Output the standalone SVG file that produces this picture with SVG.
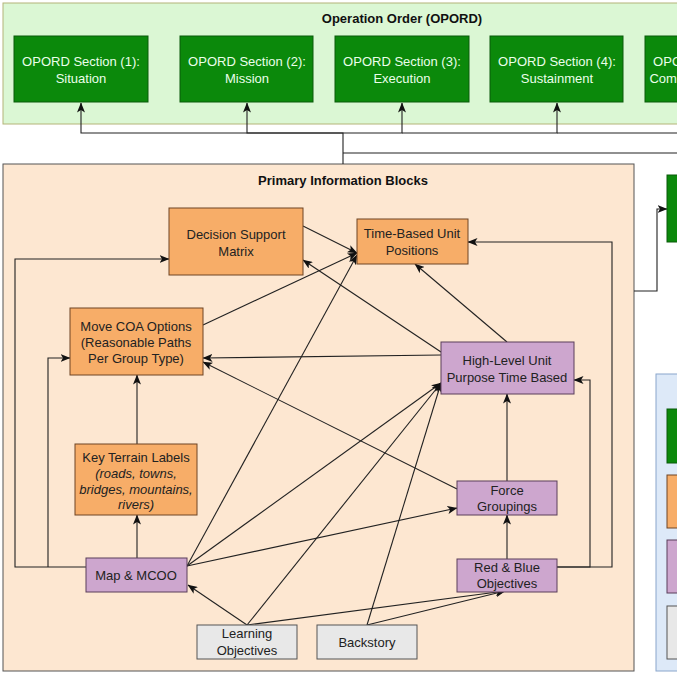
<svg xmlns="http://www.w3.org/2000/svg" width="677" height="677" viewBox="0 0 677 677">
<defs>
<marker id="arr" viewBox="0 0 10 8" refX="9.5" refY="4" markerWidth="10" markerHeight="8" markerUnits="userSpaceOnUse" orient="auto">
<path d="M0,0 L10,4 L0,8 L2.5,4 Z" fill="#111"/>
</marker>
<style>
text{font-family:"Liberation Sans",Arial,sans-serif;font-size:13px;text-anchor:middle}
.t{font-weight:bold;fill:#111}
.g rect{fill:#0b890b;stroke:#0a5a0a;stroke-width:1}
.g text{fill:#eaffea}
.o rect{fill:#f7ad68;stroke:#6e4524;stroke-width:1}
.p rect{fill:#cda6ce;stroke:#5a3e5a;stroke-width:1}
.x rect{fill:#e8e8e8;stroke:#555;stroke-width:1}
.o text,.p text,.x text{fill:#222}
.c path{fill:none;stroke:#222;stroke-width:1.1}
.a{marker-end:url(#arr)}
</style>
</defs>
<rect width="677" height="677" fill="#ffffff"/>
<g id="opord-container">
<rect x="3" y="3" width="690" height="121" fill="#dbf7d4" stroke="#b4b478" stroke-width="1"/>
<text class="t" x="402" y="23">Operation Order (OPORD)</text>
</g>
<g id="primary-container">
<rect x="3" y="164" width="631" height="507" fill="#fde7d1" stroke="#555" stroke-width="1"/>
<text class="t" x="343" y="185">Primary Information Blocks</text>
</g>
<g id="legend-container">
<rect x="656" y="374" width="40" height="297" fill="#dde9f8" stroke="#8aa6cc" stroke-width="1"/>
</g>
<g class="c" id="connectors">
<path d="M343 164 V133 H81 V103" class="a"/>
<path d="M343 133 H247 V103" class="a"/>
<path d="M343 133 H402 V103" class="a"/>
<path d="M402 133 H557 V103" class="a"/>
<path d="M557 133 H712 V103" class="a"/>
<path d="M343 153 H700"/>
<path d="M634 291 H657 V209 H667" class="a"/>
<path d="M86 567 H15 V259 H169" class="a"/>
<path d="M48 567 V358 H70" class="a"/>
<path d="M137 558 V515" class="a"/>
<path d="M137 444 V375" class="a"/>
<path d="M187 566 L357 255" class="a"/>
<path d="M187 566 L441 383" class="a"/>
<path d="M187 566 L457 508" class="a"/>
<path d="M247 625 L188 585" class="a"/>
<path d="M247 625 L441 383" class="a"/>
<path d="M247 625 L505 591" class="a"/>
<path d="M367 625 L441 383" class="a"/>
<path d="M367 625 L505 591" class="a"/>
<path d="M507 559 V515" class="a"/>
<path d="M507 481 V394" class="a"/>
<path d="M557 567 H590 V380 H574" class="a"/>
<path d="M557 567 H612 V242 H468" class="a"/>
<path d="M457 489 L203 362" class="a"/>
<path d="M441 355 L203 358" class="a"/>
<path d="M441 352 L303 260" class="a"/>
<path d="M507 342 L415 264" class="a"/>
<path d="M303 226 L357 253" class="a"/>
<path d="M203 325 L357 253" class="a"/>
</g>
<g id="opord-1" class="g"><rect x="14" y="36" width="134" height="66"/><text x="81" y="66">OPORD Section (1):</text><text x="81" y="83">Situation</text></g>
<g id="opord-2" class="g"><rect x="180" y="36" width="133" height="66"/><text x="247" y="66">OPORD Section (2):</text><text x="247" y="83">Mission</text></g>
<g id="opord-3" class="g"><rect x="335" y="36" width="134" height="66"/><text x="402" y="66">OPORD Section (3):</text><text x="402" y="83">Execution</text></g>
<g id="opord-4" class="g"><rect x="490" y="36" width="133" height="66"/><text x="557" y="66">OPORD Section (4):</text><text x="557" y="83">Sustainment</text></g>
<g id="opord-5" class="g"><rect x="645" y="36" width="134" height="66"/><text x="712" y="66">OPORD Section (5):</text><text x="712" y="83">Command and Signal</text></g>
<g id="right-green" class="g"><rect x="667" y="175" width="60" height="67"/></g>
<g id="dsm" class="o"><rect x="169" y="208" width="134" height="67"/><text x="236" y="239">Decision Support</text><text x="236" y="256">Matrix</text></g>
<g id="tb" class="o"><rect x="357" y="219" width="111" height="45"/><text x="412" y="238">Time-Based Unit</text><text x="412" y="255">Positions</text></g>
<g id="coa" class="o"><rect x="70" y="308" width="133" height="67"/><text x="136" y="331">Move COA Options</text><text x="136" y="347">(Reasonable Paths</text><text x="136" y="363">Per Group Type)</text></g>
<g id="hl" class="p"><rect x="441" y="342" width="133" height="52"/><text x="507" y="365">High-Level Unit</text><text x="507" y="382">Purpose Time Based</text></g>
<g id="kt" class="o"><rect x="75" y="444" width="122" height="71"/><text x="136" y="462">Key Terrain Labels</text><text x="136" y="478" font-style="italic">(roads, towns,</text><text x="136" y="494" font-style="italic">bridges, mountains,</text><text x="136" y="509" font-style="italic">rivers)</text></g>
<g id="fg" class="p"><rect x="457" y="481" width="100" height="34"/><text x="507" y="495">Force</text><text x="507" y="511">Groupings</text></g>
<g id="map" class="p"><rect x="86" y="558" width="101" height="34"/><text x="136" y="580">Map &amp; MCOO</text></g>
<g id="rb" class="p"><rect x="457" y="559" width="100" height="33"/><text x="507" y="572">Red &amp; Blue</text><text x="507" y="588">Objectives</text></g>
<g id="lo" class="x"><rect x="197" y="625" width="100" height="34"/><text x="247" y="638">Learning</text><text x="247" y="655">Objectives</text></g>
<g id="bs" class="x"><rect x="317" y="625" width="100" height="34"/><text x="367" y="647">Backstory</text></g>
<g id="legend-green" class="g"><rect x="667" y="409" width="40" height="54"/></g>
<g id="legend-orange" class="o"><rect x="667" y="475" width="40" height="53"/></g>
<g id="legend-purple" class="p"><rect x="667" y="540" width="40" height="53"/></g>
<g id="legend-gray" class="x"><rect x="667" y="606" width="40" height="53"/></g>
</svg>
